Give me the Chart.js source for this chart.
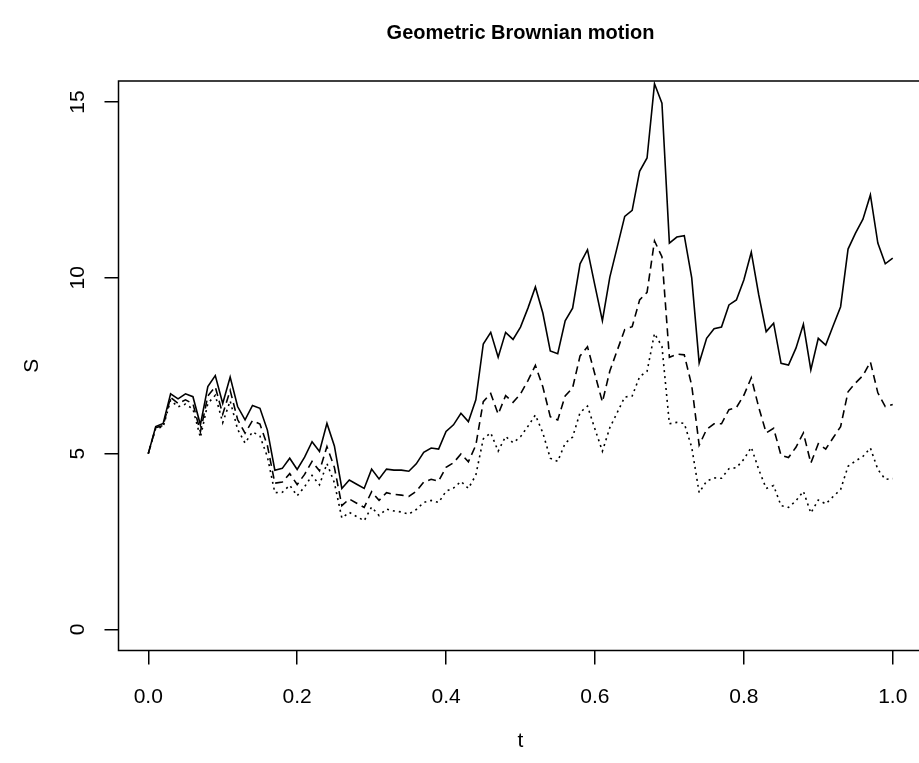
<!DOCTYPE html>
<html>
<head>
<meta charset="utf-8">
<title>Geometric Brownian motion</title>
<script src="https://cdn.jsdelivr.net/npm/chart.js@4/dist/chart.umd.min.js"></script>
<style>
  html, body { margin: 0; padding: 0; background: #fff; overflow: hidden; }
  canvas { display: block; }
</style>
</head>
<body>
<canvas id="gbmChart" width="930" height="763"></canvas>
<script>
const TITLE = 'Geometric Brownian motion';

const T = [
    0.00, 0.01, 0.02, 0.03, 0.04, 0.05, 0.06, 0.07, 0.08, 0.09,
    0.10, 0.11, 0.12, 0.13, 0.14, 0.15, 0.16, 0.17, 0.18, 0.19,
    0.20, 0.21, 0.22, 0.23, 0.24, 0.25, 0.26, 0.27, 0.28, 0.29,
    0.30, 0.31, 0.32, 0.33, 0.34, 0.35, 0.36, 0.37, 0.38, 0.39,
    0.40, 0.41, 0.42, 0.43, 0.44, 0.45, 0.46, 0.47, 0.48, 0.49,
    0.50, 0.51, 0.52, 0.53, 0.54, 0.55, 0.56, 0.57, 0.58, 0.59,
    0.60, 0.61, 0.62, 0.63, 0.64, 0.65, 0.66, 0.67, 0.68, 0.69,
    0.70, 0.71, 0.72, 0.73, 0.74, 0.75, 0.76, 0.77, 0.78, 0.79,
    0.80, 0.81, 0.82, 0.83, 0.84, 0.85, 0.86, 0.87, 0.88, 0.89,
    0.90, 0.91, 0.92, 0.93, 0.94, 0.95, 0.96, 0.97, 0.98, 0.99,
    1.00,
];

// solid path
const S_SOLID = [
    5.00, 5.77, 5.86, 6.70, 6.56, 6.70, 6.62, 5.82, 6.91, 7.22,
    6.43, 7.18, 6.34, 5.96, 6.37, 6.29, 5.67, 4.53, 4.58, 4.87,
    4.55, 4.90, 5.34, 5.06, 5.86, 5.22, 4.01, 4.25, 4.13, 4.01,
    4.56, 4.28, 4.56, 4.53, 4.53, 4.50, 4.71, 5.04, 5.16, 5.13,
    5.63, 5.82, 6.15, 5.91, 6.53, 8.12, 8.45, 7.74, 8.45, 8.25,
    8.60, 9.14, 9.74, 9.00, 7.92, 7.84, 8.78, 9.14, 10.40, 10.80,
    9.78, 8.78, 10.02, 10.88, 11.75, 11.92, 13.03, 13.41, 15.52, 14.97,
    10.99, 11.16, 11.20, 10.00, 7.58, 8.28, 8.55, 8.60, 9.23, 9.37,
    9.94, 10.73, 9.52, 8.47, 8.71, 7.57, 7.52, 8.00, 8.68, 7.38,
    8.28, 8.09, 8.64, 9.18, 10.82, 11.27, 11.67, 12.36, 10.99, 10.40,
    10.56,
];

// dashed path
const S_DASHED = [
    5.00, 5.74, 5.80, 6.60, 6.43, 6.53, 6.42, 5.62, 6.64, 6.90,
    6.12, 6.80, 5.97, 5.58, 5.94, 5.84, 5.23, 4.16, 4.19, 4.43,
    4.12, 4.41, 4.78, 4.51, 5.20, 4.61, 3.52, 3.71, 3.59, 3.47,
    3.92, 3.67, 3.89, 3.84, 3.82, 3.78, 3.93, 4.19, 4.27, 4.22,
    4.61, 4.74, 4.99, 4.77, 5.24, 6.48, 6.71, 6.12, 6.65, 6.46,
    6.70, 7.08, 7.51, 6.90, 6.05, 5.96, 6.64, 6.87, 7.78, 8.04,
    7.25, 6.47, 7.35, 7.94, 8.53, 8.61, 9.37, 9.59, 11.05, 10.60,
    7.74, 7.83, 7.81, 6.94, 5.24, 5.69, 5.85, 5.85, 6.25, 6.31,
    6.66, 7.16, 6.32, 5.59, 5.72, 4.95, 4.89, 5.18, 5.59, 4.73,
    5.28, 5.13, 5.45, 5.77, 6.76, 7.01, 7.22, 7.61, 6.73, 6.34,
    6.40,
];

// dotted path
const S_DOTTED = [
    5.00, 5.72, 5.76, 6.52, 6.33, 6.41, 6.27, 5.46, 6.43, 6.66,
    5.88, 6.50, 5.69, 5.30, 5.62, 5.50, 4.91, 3.89, 3.90, 4.10,
    3.80, 4.06, 4.38, 4.11, 4.72, 4.17, 3.17, 3.33, 3.21, 3.09,
    3.48, 3.24, 3.42, 3.37, 3.34, 3.28, 3.41, 3.61, 3.67, 3.61,
    3.93, 4.02, 4.21, 4.01, 4.39, 5.42, 5.59, 5.07, 5.49, 5.31,
    5.48, 5.78, 6.10, 5.59, 4.87, 4.78, 5.30, 5.47, 6.17, 6.35,
    5.70, 5.07, 5.74, 6.17, 6.61, 6.64, 7.19, 7.34, 8.42, 8.05,
    5.85, 5.89, 5.86, 5.18, 3.89, 4.22, 4.31, 4.30, 4.57, 4.60,
    4.84, 5.18, 4.55, 4.01, 4.09, 3.52, 3.47, 3.66, 3.93, 3.31,
    3.68, 3.57, 3.78, 3.98, 4.64, 4.79, 4.92, 5.16, 4.55, 4.27,
    4.29,
];

const X_TICKS = [0, 0.2, 0.4, 0.6, 0.8, 1.0];
const Y_TICKS = [0, 5, 10, 15];

const FONT_FAMILY = '"Liberation Sans", Arial, Helvetica, sans-serif';

function toPoints(values) {
    return values.map((v, i) => ({ x: T[i], y: v }));
}

function pathDataset(values, dash) {
    return {
        data: toPoints(values),
        borderColor: '#000',
        borderWidth: 1.6,
        borderDash: dash,
        borderCapStyle: 'butt',
        pointRadius: 0,
        tension: 0,
        fill: false,
    };
}

// box round the plot, rotated y labels, title over the plot region
const framePlugin = {
    id: 'frame',
    afterDraw(chart) {
        const { ctx, chartArea: a, scales: { y } } = chart;
        ctx.save();
        ctx.strokeStyle = '#000';
        ctx.lineWidth = 1.5;
        ctx.strokeRect(a.left, a.top, a.right - a.left, a.bottom - a.top);

        ctx.fillStyle = '#000';
        ctx.textAlign = 'center';
        ctx.textBaseline = 'middle';
        ctx.font = '21px ' + FONT_FAMILY;
        y.ticks.forEach(t => {
            ctx.save();
            ctx.translate(a.left - 40, y.getPixelForValue(t.value));
            ctx.rotate(-Math.PI / 2);
            ctx.fillText(String(t.value), 0, 0);
            ctx.restore();
        });

        ctx.font = 'bold 20px ' + FONT_FAMILY;
        ctx.fillText(TITLE, (a.left + a.right) / 2, 33);
        ctx.restore();
    },
};

new Chart(document.getElementById('gbmChart'), {
    type: 'line',
    data: {
        datasets: [
            pathDataset(S_SOLID, []),
            pathDataset(S_DASHED, [8, 5]),
            pathDataset(S_DOTTED, [2, 4]),
        ],
    },
    options: {
        responsive: false,
        animation: false,
        devicePixelRatio: 1,
        layout: { padding: { top: 81, right: 7.5, left: 0, bottom: 0 } },
        plugins: {
            legend: { display: false },
            tooltip: { enabled: false },
        },
        scales: {
            x: {
                type: 'linear',
                min: -0.04,
                max: 1.04,
                afterBuildTicks: scale => { scale.ticks = X_TICKS.map(v => ({ value: v })); },
                afterFit: scale => { scale.height = 112.5; },
                border: { display: false },
                grid: {
                    drawOnChartArea: false,
                    drawTicks: true,
                    tickLength: 14,
                    color: '#000',
                    lineWidth: 1.5,
                },
                ticks: {
                    autoSkip: false,
                    maxRotation: 0,
                    padding: 20,
                    color: '#000',
                    font: { family: FONT_FAMILY, size: 21 },
                    callback: v => v.toFixed(1),
                },
                title: {
                    display: true,
                    text: 't',
                    color: '#000',
                    font: { family: FONT_FAMILY, size: 21 },
                    padding: { top: 0, bottom: 9 },
                },
            },
            y: {
                type: 'linear',
                min: -0.6,
                max: 15.6,
                afterBuildTicks: scale => { scale.ticks = Y_TICKS.map(v => ({ value: v })); },
                afterFit: scale => { scale.width = 118.5; },
                border: { display: false },
                grid: {
                    drawOnChartArea: false,
                    drawTicks: true,
                    tickLength: 14,
                    color: '#000',
                    lineWidth: 1.5,
                },
                ticks: {
                    display: false,
                },
                title: {
                    display: true,
                    text: 'S',
                    color: '#000',
                    font: { family: FONT_FAMILY, size: 21 },
                    padding: { top: 20, bottom: 0 },
                },
            },
        },
    },
    plugins: [framePlugin],
});
</script>
</body>
</html>
